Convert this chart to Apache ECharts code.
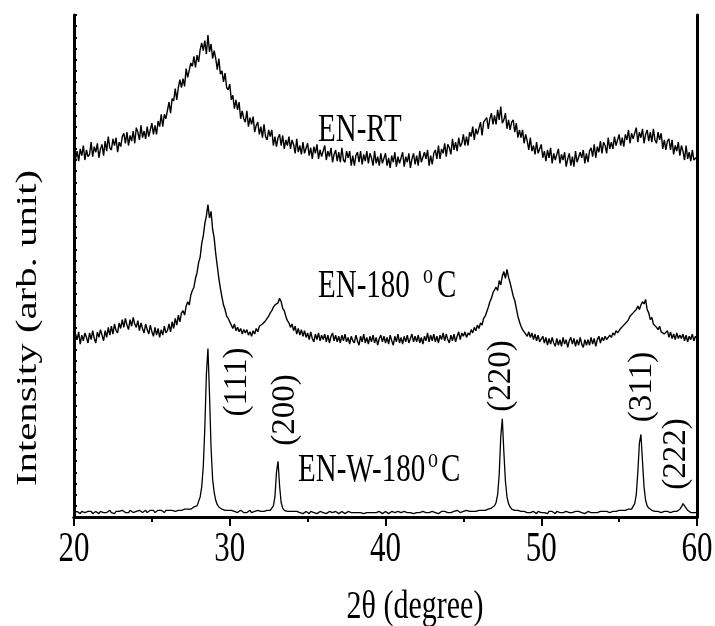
<!DOCTYPE html>
<html><head><meta charset="utf-8">
<script src="https://cdn.jsdelivr.net/npm/echarts@6/dist/echarts.min.js"></script>
<style>html,body{margin:0;padding:0;background:#fff}#c{width:715px;height:626px}</style>
</head><body><div id="c"></div>
<script>
// ---- DATA (2θ from 20 to 60 in steps of 0.1°, intensity in arbitrary units, traces offset) ----
const xStart = 20, xStep = 0.1;

const enRT = [
332,321,328,319,330,324,333,320,329,323,
325,336,323,332,327,335,322,330,334,324,
337,328,341,331,329,339,333,340,327,336,
332,341,344,335,345,333,342,337,346,335,
349,345,338,351,340,346,339,350,341,342,
353,343,351,343,355,350,361,350,361,357,
358,372,362,375,373,384,374,385,392,385,
393,386,402,394,395,407,404,413,403,414,
408,419,425,418,427,415,432,417,424,411,
418,411,401,411,397,400,390,398,385,383,
388,374,378,366,374,365,372,357,364,357,
354,364,350,358,352,359,345,351,354,343,
350,340,352,341,338,347,341,347,333,341,
332,340,343,333,342,330,338,333,341,330,
338,334,326,339,327,333,325,336,326,327,
335,324,331,321,332,326,334,321,329,323,
322,333,320,328,323,331,318,325,329,319,
327,318,331,320,318,328,322,328,315,324,
315,324,327,318,328,316,325,319,328,317,
326,322,315,328,317,323,315,326,317,318,
326,315,322,313,324,318,327,314,323,317,
316,327,314,323,318,326,313,321,326,316,
324,315,328,318,317,327,321,329,315,324,
316,326,329,321,333,321,330,326,335,323,
334,331,325,339,329,336,328,340,332,335,
343,333,341,333,345,341,350,338,348,343,
342,354,342,354,355,358,348,357,362,352,
360,352,365,356,368,353,356,362,348,356,
347,354,356,345,353,340,347,340,347,335,
343,337,329,340,328,333,325,336,326,327,
334,322,328,319,329,322,331,317,326,320,
319,330,317,325,320,327,314,321,326,315,
323,314,328,318,317,327,322,329,317,326,
318,328,331,323,334,322,332,327,337,326,
336,333,326,340,330,336,330,341,333,334,
343,333,340,332,343,338,347,335,344,339,
338,349,336,345,340,348,335,343,347,337,
345,336,348,338,335,345,338,344,330,338,
329,337,339,329,338,325,333,328,336,324,
333,328,320,333,321,327,319,329,320,320,
323];

const en180 = [
156,164,159,166,155,163,158,165,161,156,
165,159,167,160,156,166,161,168,163,158,
167,161,170,163,171,164,173,167,165,174,
169,177,170,178,172,168,177,171,179,173,
170,176,167,174,169,165,173,168,164,172,
166,162,170,163,169,161,168,163,171,165,
167,173,166,175,169,178,172,181,175,183,
185,181,189,193,190,199,203,206,214,219,
228,233,245,252,263,270,280,268,274,258,
250,236,225,214,205,197,190,186,180,178,
175,172,169,173,167,170,166,169,164,168,
165,168,163,166,162,167,164,169,166,171,
170,173,172,176,178,180,183,185,188,190,
190,192,196,193,187,185,180,176,174,170,
173,167,171,164,169,163,168,162,167,161,
165,159,166,160,157,164,159,165,158,163,
159,164,157,163,156,162,165,158,163,157,
162,156,163,158,164,157,161,155,162,158,
156,163,158,154,162,157,164,156,161,155,
162,157,163,156,161,154,160,163,157,162,
156,161,155,163,158,154,162,157,164,156,
161,155,162,157,163,156,160,164,157,162,
157,163,156,161,155,162,158,165,157,163,
158,164,157,162,156,163,159,165,158,164,
159,156,163,158,164,157,162,166,159,165,
162,166,161,165,163,168,165,170,167,172,
169,174,172,178,180,184,188,193,196,201,
200,206,203,212,208,216,220,214,222,215,
210,204,198,194,187,180,175,171,168,166,
167,162,166,161,165,159,164,158,163,157,
157,162,156,161,154,160,155,161,156,153,
160,154,159,153,161,155,159,152,158,161,
155,160,153,159,154,161,155,152,159,154,
159,154,161,155,160,153,159,162,156,161,
158,162,159,161,163,161,165,163,167,165,
165,169,168,172,171,175,177,180,179,183,
183,186,189,186,190,193,191,195,186,183,
177,179,173,174,170,168,171,166,167,164,
163,167,161,166,160,164,159,165,160,163,
160,164,158,163,157,162,159,164,158,162,
160];

const enW180 = [
4,3,5,4,3,5,4,4,3,5,
4,5,3,4,5,4,3,5,4,4,
5,4,4,6,4,5,3,5,4,5,
4,6,5,4,5,4,6,5,4,5,
5,4,6,5,4,5,6,4,5,6,
5,6,4,5,6,5,6,5,4,6,
5,6,5,6,7,5,6,6,7,6,
6,7,6,7,8,7,8,9,9,10,
14,18,27,45,80,128,151,110,62,34,
22,15,11,9,8,7,7,6,6,6,
5,6,5,5,6,4,5,6,5,4,
5,4,5,6,4,5,5,4,6,5,
5,4,5,5,6,5,6,7,10,18,
40,50,28,13,8,6,5,5,4,5,
4,5,4,5,4,4,5,3,4,5,
4,3,5,4,4,5,3,4,5,4,
4,5,3,4,5,4,4,3,5,4,
3,4,5,4,3,4,5,4,4,3,
4,5,4,3,4,5,3,4,4,5,
4,3,4,5,4,3,5,4,3,4,
5,4,3,4,5,4,4,3,5,4,
4,3,5,4,4,3,4,5,3,4,
4,5,4,3,5,4,4,5,4,3,
5,4,4,5,3,4,5,4,5,4,
4,5,4,5,5,4,6,5,4,5,
5,4,6,5,5,6,5,6,5,6,
6,5,6,7,6,7,7,8,8,9,
10,13,20,38,72,88,58,32,18,12,
9,7,6,6,5,6,5,5,4,5,
5,4,5,4,4,5,4,3,5,4,
4,5,4,4,3,5,4,5,4,3,
5,4,4,5,4,3,5,4,4,5,
4,3,5,4,5,4,4,5,3,4,
5,4,4,5,4,5,4,4,5,4,
5,4,5,5,4,5,5,6,5,5,
6,5,6,5,6,6,7,6,7,8,
12,20,40,66,74,50,27,15,10,8,
7,6,6,5,6,5,5,4,5,5,
4,5,5,4,5,5,6,5,6,7,
9,12,12,8,6,5,4,5,4,5,
4];

const seriesNames = ['EN-RT', 'EN-180 °C', 'EN-W-180 °C'];
const xTickValues = [20, 30, 40, 50, 60];
const xTickLabels = ['20', '30', '40', '50', '60'];
const xTitle = '2θ (degree)';
const yTitle = 'Intensity (arb. unit)';
const peakLabels = ['(111)', '(200)', '(220)', '(311)', '(222)'];

// ---- CHART ----
function pairs(arr) { return arr.map((v, i) => [Math.round((xStart + i * xStep) * 10) / 10, v]); }

const chart = echarts.init(document.getElementById('c'), null, { renderer: 'canvas' });
const FONT = '"Liberation Serif", "Times New Roman", serif';
const axisBase = { lineStyle: { color: '#000', width: 3 } };

const lineSeries = (name, arr, w) => ({
  name, type: 'line', data: pairs(arr), showSymbol: false, symbol: 'none',
  lineStyle: { color: '#000', width: w }, animation: false, silent: true
});

chart.setOption({
  animation: false,
  backgroundColor: '#fff',
  grid: { left: 74, right: 18, top: 15, bottom: 109, containLabel: false, outerBoundsMode: 'none' },
  xAxis: [
    { type: 'value', position: 'bottom', min: 20, max: 60, interval: 10,
      axisLine: axisBase, splitLine: { show: false },
      axisTick: { show: true, inside: false, length: 9, lineStyle: { color: '#000', width: 2 } },
      minorTick: { show: true, splitNumber: 2, length: 5, lineStyle: { color: '#000', width: 2 } },
      axisLabel: { show: false } },
    { type: 'value', position: 'top', min: 20, max: 60, interval: 10,
      axisLine: axisBase, splitLine: { show: false }, axisTick: { show: false }, axisLabel: { show: false } }
  ],
  yAxis: [
    { type: 'value', position: 'left', min: 0, max: 450, interval: 10,
      axisLine: axisBase, splitLine: { show: false },
      axisTick: { show: true, inside: true, length: 3, lineStyle: { color: '#000', width: 2 } },
      axisLabel: { show: false } },
    { type: 'value', position: 'right', min: 0, max: 450,
      axisLine: axisBase, splitLine: { show: false }, axisTick: { show: false }, axisLabel: { show: false } }
  ],
  series: [
    lineSeries(seriesNames[0], enRT, 1.4),
    lineSeries(seriesNames[1], en180, 1.4),
    lineSeries(seriesNames[2], enW180, 1.3)
  ]
});

// ---- TEXT (Times-like text, vertically stretched as in the original figure) ----
const SY = 1.36;
function txt(text, x, y, size, opts) {
  opts = opts || {};
  return {
    type: 'text', x, y, z: 100,
    rotation: opts.rot || 0,
    scaleX: opts.sx || 1, scaleY: opts.sy || 1,
    style: {
      text, font: size + 'px ' + FONT, fill: '#000',
      align: opts.align || 'center', verticalAlign: opts.valign || 'middle',
      textAlign: opts.align || 'center', textVerticalAlign: opts.valign || 'middle'
    }
  };
}
const g = [];
xTickValues.forEach((v, i) => {
  const px = chart.convertToPixel({ xAxisIndex: 0 }, v);
  g.push(txt(xTickLabels[i], px, 550, 31, { sy: SY }));
});
g.push(txt(xTitle, 415, 607, 30, { sy: SY }));
g.push(txt(yTitle, 28, 328, 30, { rot: Math.PI / 2, sx: SY }));
// series labels
g.push(txt('EN-RT', 318, 131, 29, { sy: SY, align: 'left' }));
g.push(txt('EN-180', 318, 287, 29, { sy: SY, align: 'left' }));
g.push(txt('o', 423, 276, 20, { sy: SY, align: 'left' }));
g.push(txt('C', 437, 287, 29, { sy: SY, align: 'left' }));
g.push(txt('EN-W-180', 298, 471, 29, { sy: SY, align: 'left' }));
g.push(txt('o', 428, 460, 20, { sy: SY, align: 'left' }));
g.push(txt('C', 441, 471, 29, { sy: SY, align: 'left' }));
// peak labels (rotated, reading upward)
const peakPix = [[237, 382], [285, 410], [501, 376], [642, 387], [676, 454]];
peakLabels.forEach((t, i) => {
  g.push(txt(t, peakPix[i][0], peakPix[i][1], 33, { rot: Math.PI / 2, sx: 1.0 }));
});
chart.setOption({ graphic: { elements: g } });
</script>
</body></html>
